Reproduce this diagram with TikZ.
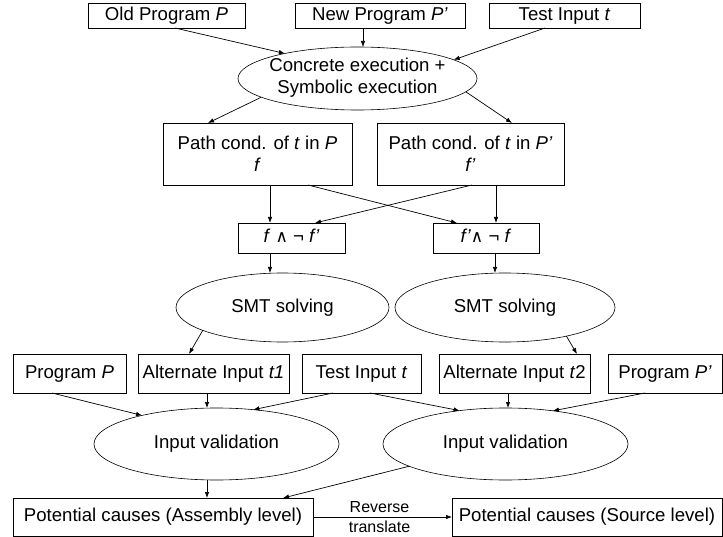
\documentclass[tikz,border=0pt]{standalone}
\usepackage{fontspec}
\setmainfont{Liberation Sans}
\newfontfamily\dejavu{DejaVu Sans}
\usetikzlibrary{shapes.geometric,arrows.meta}
\begin{document}
\begin{tikzpicture}[x=1pt,y=-1pt,
  every node/.style={inner sep=0pt, outer sep=0pt, font=\fontsize{18.6}{22}\selectfont},
  box/.style={draw, rectangle, line width=0.75pt},
  oneline/.style={text height=13.5pt, text depth=3.8pt},
  ell/.style={draw, ellipse, line width=0.6pt},
  arr/.style={draw, line width=0.7pt, -{Latex[length=6pt,width=4.5pt]}},
  small/.style={font=\fontsize{16}{20}\selectfont, align=center}
]
\useasboundingbox (0,0) rectangle (723,537);

% top row
\node[box,oneline,minimum width=157pt,minimum height=25pt] (oldp) at (166.5,15.5) {Old Program \textit{P}};
\node[box,oneline,minimum width=170pt,minimum height=25pt] (newp) at (380,15.5) {New Program \textit{P’}};
\node[box,oneline,minimum width=151pt,minimum height=25pt] (testt) at (564.5,15.5) {Test Input \textit{t}};

\node[ell,minimum width=239pt,minimum height=63pt] (ce) at (357.5,78.5)
  {\makebox[0pt]{\raisebox{-2.5pt}{\begin{tabular}{@{}c@{}}Concrete execution +\\Symbolic execution\end{tabular}}}};

% path conditions
\node[box,minimum width=189pt,minimum height=62pt,align=center] (pc1) at (257.5,154)
  {Path cond. of \textit{t} in \textit{P}\\\textit{f}};
\node[box,minimum width=187pt,minimum height=62pt,align=center] (pc2) at (470.5,154)
  {Path cond. of \textit{t} in \textit{P’}\\\textit{f’}};

% conjunctions
\node[box,oneline,minimum width=107pt,minimum height=30pt] (cj1) at (291.5,238)
  {\textit{f} {\dejavu\fontsize{17}{17}\selectfont ∧} ¬ \textit{f’}};
\node[box,oneline,minimum width=106pt,minimum height=30pt] (cj2) at (486,238)
  {\textit{f’}{\dejavu\fontsize{17}{17}\selectfont ∧} ¬ \textit{f}};

% SMT
\node[ell,oneline,minimum width=213pt,minimum height=69pt] (smt1) at (282.5,307.5) {SMT solving};
\node[ell,oneline,minimum width=220pt,minimum height=69pt] (smt2) at (505,307.5) {SMT solving};

% row 4
\node[box,oneline,minimum width=113pt,minimum height=39pt] (prog) at (69.5,373.5) {Program \textit{P}};
\node[box,oneline,minimum width=151pt,minimum height=39pt] (alt1) at (213.5,373.5) {Alternate Input \textit{t1}};
\node[box,oneline,minimum width=119pt,minimum height=39pt] (test2) at (361.5,373.5) {Test Input \textit{t}};
\node[box,oneline,minimum width=151pt,minimum height=39pt] (alt2) at (514.5,373.5) {Alternate Input \textit{t}2};
\node[box,oneline,minimum width=114pt,minimum height=39pt] (progp) at (665,373.5) {Program \textit{P’}};

% input validation
\node[ell,oneline,minimum width=245pt,minimum height=72pt] (iv1) at (216.5,444) {Input validation};
\node[ell,oneline,minimum width=245pt,minimum height=72pt] (iv2) at (505.5,444) {Input validation};

% bottom
\node[box,oneline,minimum width=300pt,minimum height=38pt] (pa) at (163,517) {Potential causes (Assembly level)};
\node[box,oneline,minimum width=270pt,minimum height=38pt] (ps) at (587,517) {Potential causes (Source level)};

% connectors
\draw[arr] ([xshift=8.5pt]oldp.south) -- (ce.161);
\draw[arr] ([xshift=-17pt]newp.south) -- ([xshift=-17pt]newp.south |- ce.north);
\draw[arr] ([xshift=-19.5pt]testt.south) -- (ce.11);

\draw[arr] (ce.191) -- ([xshift=-49.5pt]pc1.north);
\draw[arr] (ce.353) -- ([xshift=41.5pt]pc2.north);

\draw[arr] ([xshift=12.5pt]pc1.south) -- ([xshift=12.5pt]pc1.south |- cj1.north);
\draw[arr] ([xshift=50.5pt]pc1.south) -- ([xshift=-29pt]cj2.north);
\draw[arr] ([xshift=1.5pt]pc2.south) -- ([xshift=23.5pt]cj1.north);
\draw[arr] ([xshift=25.5pt]pc2.south) -- ([xshift=25.5pt]pc2.south |- cj2.north);

\draw[arr] ([xshift=-21.5pt]cj1.south) -- ([xshift=-21.5pt]cj1.south |- smt1.north);
\draw[arr] ([xshift=9pt]cj2.south) -- ([xshift=9pt]cj2.south |- smt2.north);

\draw[arr] (smt1.196) -- ([xshift=-24.5pt]alt1.north);
\draw[arr] (smt2.335) -- ([xshift=62.5pt]alt2.north);

\draw[arr] ([xshift=-17.5pt]prog.south) -- (iv1.159);
\draw[arr] ([xshift=-6.5pt]alt1.south) -- ([xshift=-6.5pt]alt1.south |- iv1.north);
\draw[arr] ([xshift=-28.5pt]test2.south) -- (iv1.43);
\draw[arr] ([xshift=8.5pt]test2.south) -- (iv2.144);
\draw[arr] ([xshift=-6.5pt]alt2.south) -- ([xshift=-6.5pt]alt2.south |- iv2.north);
\draw[arr] ([xshift=-20pt]progp.south) -- (iv2.35);

\draw[arr] ([xshift=-9.5pt]iv1.south) -- ([xshift=-9.5pt]iv1.south |- pa.north);
\draw[arr] (iv2.193) -- ([xshift=120pt]pa.north);

\draw[arr] (pa) -- node[small, xshift=-3pt] {Reverse\\translate} (ps);
\end{tikzpicture}
\end{document}
